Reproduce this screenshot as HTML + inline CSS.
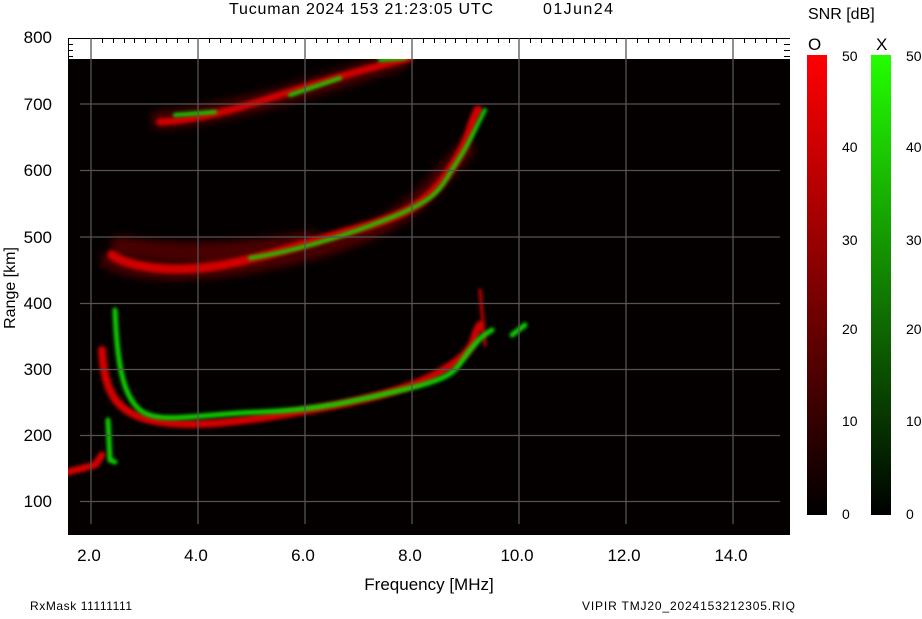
<!DOCTYPE html><html><head><style>
body{margin:0;background:#fff;width:922px;height:614px;overflow:hidden;font-family:"Liberation Sans",sans-serif}
</style></head><body>
<svg width="922" height="614" xmlns="http://www.w3.org/2000/svg" font-family="Liberation Sans, sans-serif">
<defs>
<filter id="b" x="-10%" y="-10%" width="120%" height="120%"><feGaussianBlur stdDeviation="1.5"/></filter>
<filter id="b2"><feGaussianBlur stdDeviation="4"/></filter>
<linearGradient id="gr" x1="0" y1="0" x2="0" y2="1"><stop offset="0" stop-color="#ff0000"/><stop offset="1" stop-color="#000"/></linearGradient>
<linearGradient id="gg" x1="0" y1="0" x2="0" y2="1"><stop offset="0" stop-color="#22ff00"/><stop offset="1" stop-color="#000"/></linearGradient>
<clipPath id="c"><rect x="68" y="59" width="722" height="476"/></clipPath>
</defs>
<text x="229" y="14" font-size="16" textLength="264">Tucuman 2024 153 21:23:05 UTC</text>
<text x="543" y="14" font-size="16" textLength="70">01Jun24</text>
<rect x="68" y="59" width="722" height="476" fill="#050000"/>
<g clip-path="url(#c)" fill="none" stroke-linecap="round">
<g filter="url(#b2)" stroke="#5a0000" stroke-width="18" opacity="0.8">
<path d="M110,260 C150,280 250,270 330,245 S420,200 465,150"/>
<path d="M120,245 C170,255 250,252 310,240"/>
<path d="M160,120 C230,115 320,85 400,60"/>
</g>
<g filter="url(#b)" stroke="#d00000">
<path d="M68,472 L95,465 L102,455" stroke-width="7"/>
<path d="M102,350 C104,390 115,412 150,420 S230,423 280,415 S400,395 440,372 S470,340 480,325" stroke-width="8"/>
<path d="M112,255 C130,268 170,272 210,267 S310,242 360,228 S430,200 450,170 S468,130 478,110" stroke-width="9"/>
<path d="M160,122 C200,120 240,108 280,95 S360,70 410,58" stroke-width="7"/>
<path d="M480,290 L485,345" stroke-width="3"/>
</g>
<g filter="url(#b)" stroke="#10d000">
<path d="M115,310 C117,360 122,395 140,410 S200,414 260,412 S360,400 410,388 S455,368 470,350 S485,335 492,330" stroke-width="5"/>
<path d="M108,420 L110,460 L115,462" stroke-width="5"/>
<path d="M512,335 L525,325" stroke-width="5"/>
<path d="M250,258 C290,252 340,238 390,218 S440,188 455,165 S472,135 485,110" stroke-width="4"/>
<path d="M175,115 L215,112 M290,95 L340,78 M380,60 L405,58" stroke-width="4"/>
</g>
</g>
<rect x="68" y="38" width="722" height="21" fill="#fff"/>
<g stroke="#000" stroke-width="1">
<line x1="68.5" y1="38" x2="68.5" y2="59"/>
<line x1="68" y1="38.5" x2="790" y2="38.5"/>
<path d="M68,44.5h5M68,50.5h5M68,56.5h5M784,44.5h6M784,50.5h6M784,56.5h6"/>
<path d="M102.5,38v5M113.5,38v5M124.5,38v5M134.5,38v5M145.5,38v5M156.5,38v5M166.5,38v5M177.5,38v5M188.5,38v5M209.5,38v5M220.5,38v5M231.5,38v5M241.5,38v5M252.5,38v5M263.5,38v5M273.5,38v5M284.5,38v5M295.5,38v5M316.5,38v5M327.5,38v5M338.5,38v5M348.5,38v5M359.5,38v5M370.5,38v5M380.5,38v5M391.5,38v5M402.5,38v5M423.5,38v5M434.5,38v5M445.5,38v5M455.5,38v5M466.5,38v5M477.5,38v5M487.5,38v5M498.5,38v5M509.5,38v5M530.5,38v5M541.5,38v5M552.5,38v5M562.5,38v5M573.5,38v5M584.5,38v5M594.5,38v5M605.5,38v5M616.5,38v5M637.5,38v5M648.5,38v5M659.5,38v5M669.5,38v5M680.5,38v5M691.5,38v5M701.5,38v5M712.5,38v5M723.5,38v5M744.5,38v5M755.5,38v5M766.5,38v5M776.5,38v5"/>
</g>
<g stroke="#555" stroke-width="1.3">
<path d="M91,38V524M198,38V524M305,38V524M412,38V524M519,38V524M626,38V524M733,38V524"/>
<path d="M80,104H780M80,170.5H780M80,237H780M80,303.5H780M80,369.5H780M80,435.5H780M80,501.5H780"/>
</g>
<g font-size="17" text-anchor="end">
<text x="52" y="43">800</text><text x="52" y="110">700</text><text x="52" y="176">600</text><text x="52" y="243">500</text><text x="52" y="309">400</text><text x="52" y="375">300</text><text x="52" y="441">200</text><text x="52" y="507">100</text>
</g>
<g font-size="17" text-anchor="middle">
<text x="89" y="561">2.0</text><text x="196" y="561">4.0</text><text x="303" y="561">6.0</text><text x="410" y="561">8.0</text><text x="517" y="561">10.0</text><text x="624" y="561">12.0</text><text x="731" y="561">14.0</text>
<text x="429" y="590">Frequency [MHz]</text>
</g>
<text transform="translate(15,288) rotate(-90)" font-size="16" text-anchor="middle">Range [km]</text>
<text x="30" y="610" font-size="12" textLength="102">RxMask 11111111</text>
<text x="582" y="610" font-size="12" textLength="213">VIPIR  TMJ20_2024153212305.RIQ</text>
<text x="808" y="19" font-size="16">SNR [dB]</text>
<text x="808" y="50" font-size="17">O</text><text x="876" y="50" font-size="17">X</text>
<rect x="807" y="55" width="20" height="460" fill="url(#gr)"/>
<rect x="871" y="55" width="20" height="460" fill="url(#gg)"/>
<g font-size="14">
<text x="842" y="61">50</text><text x="842" y="152">40</text><text x="842" y="245">30</text><text x="842" y="334">20</text><text x="842" y="426">10</text><text x="842" y="519">0</text>
<text x="906" y="61">50</text><text x="906" y="152">40</text><text x="906" y="245">30</text><text x="906" y="334">20</text><text x="906" y="426">10</text><text x="906" y="519">0</text>
</g>
</svg>
</body></html>
